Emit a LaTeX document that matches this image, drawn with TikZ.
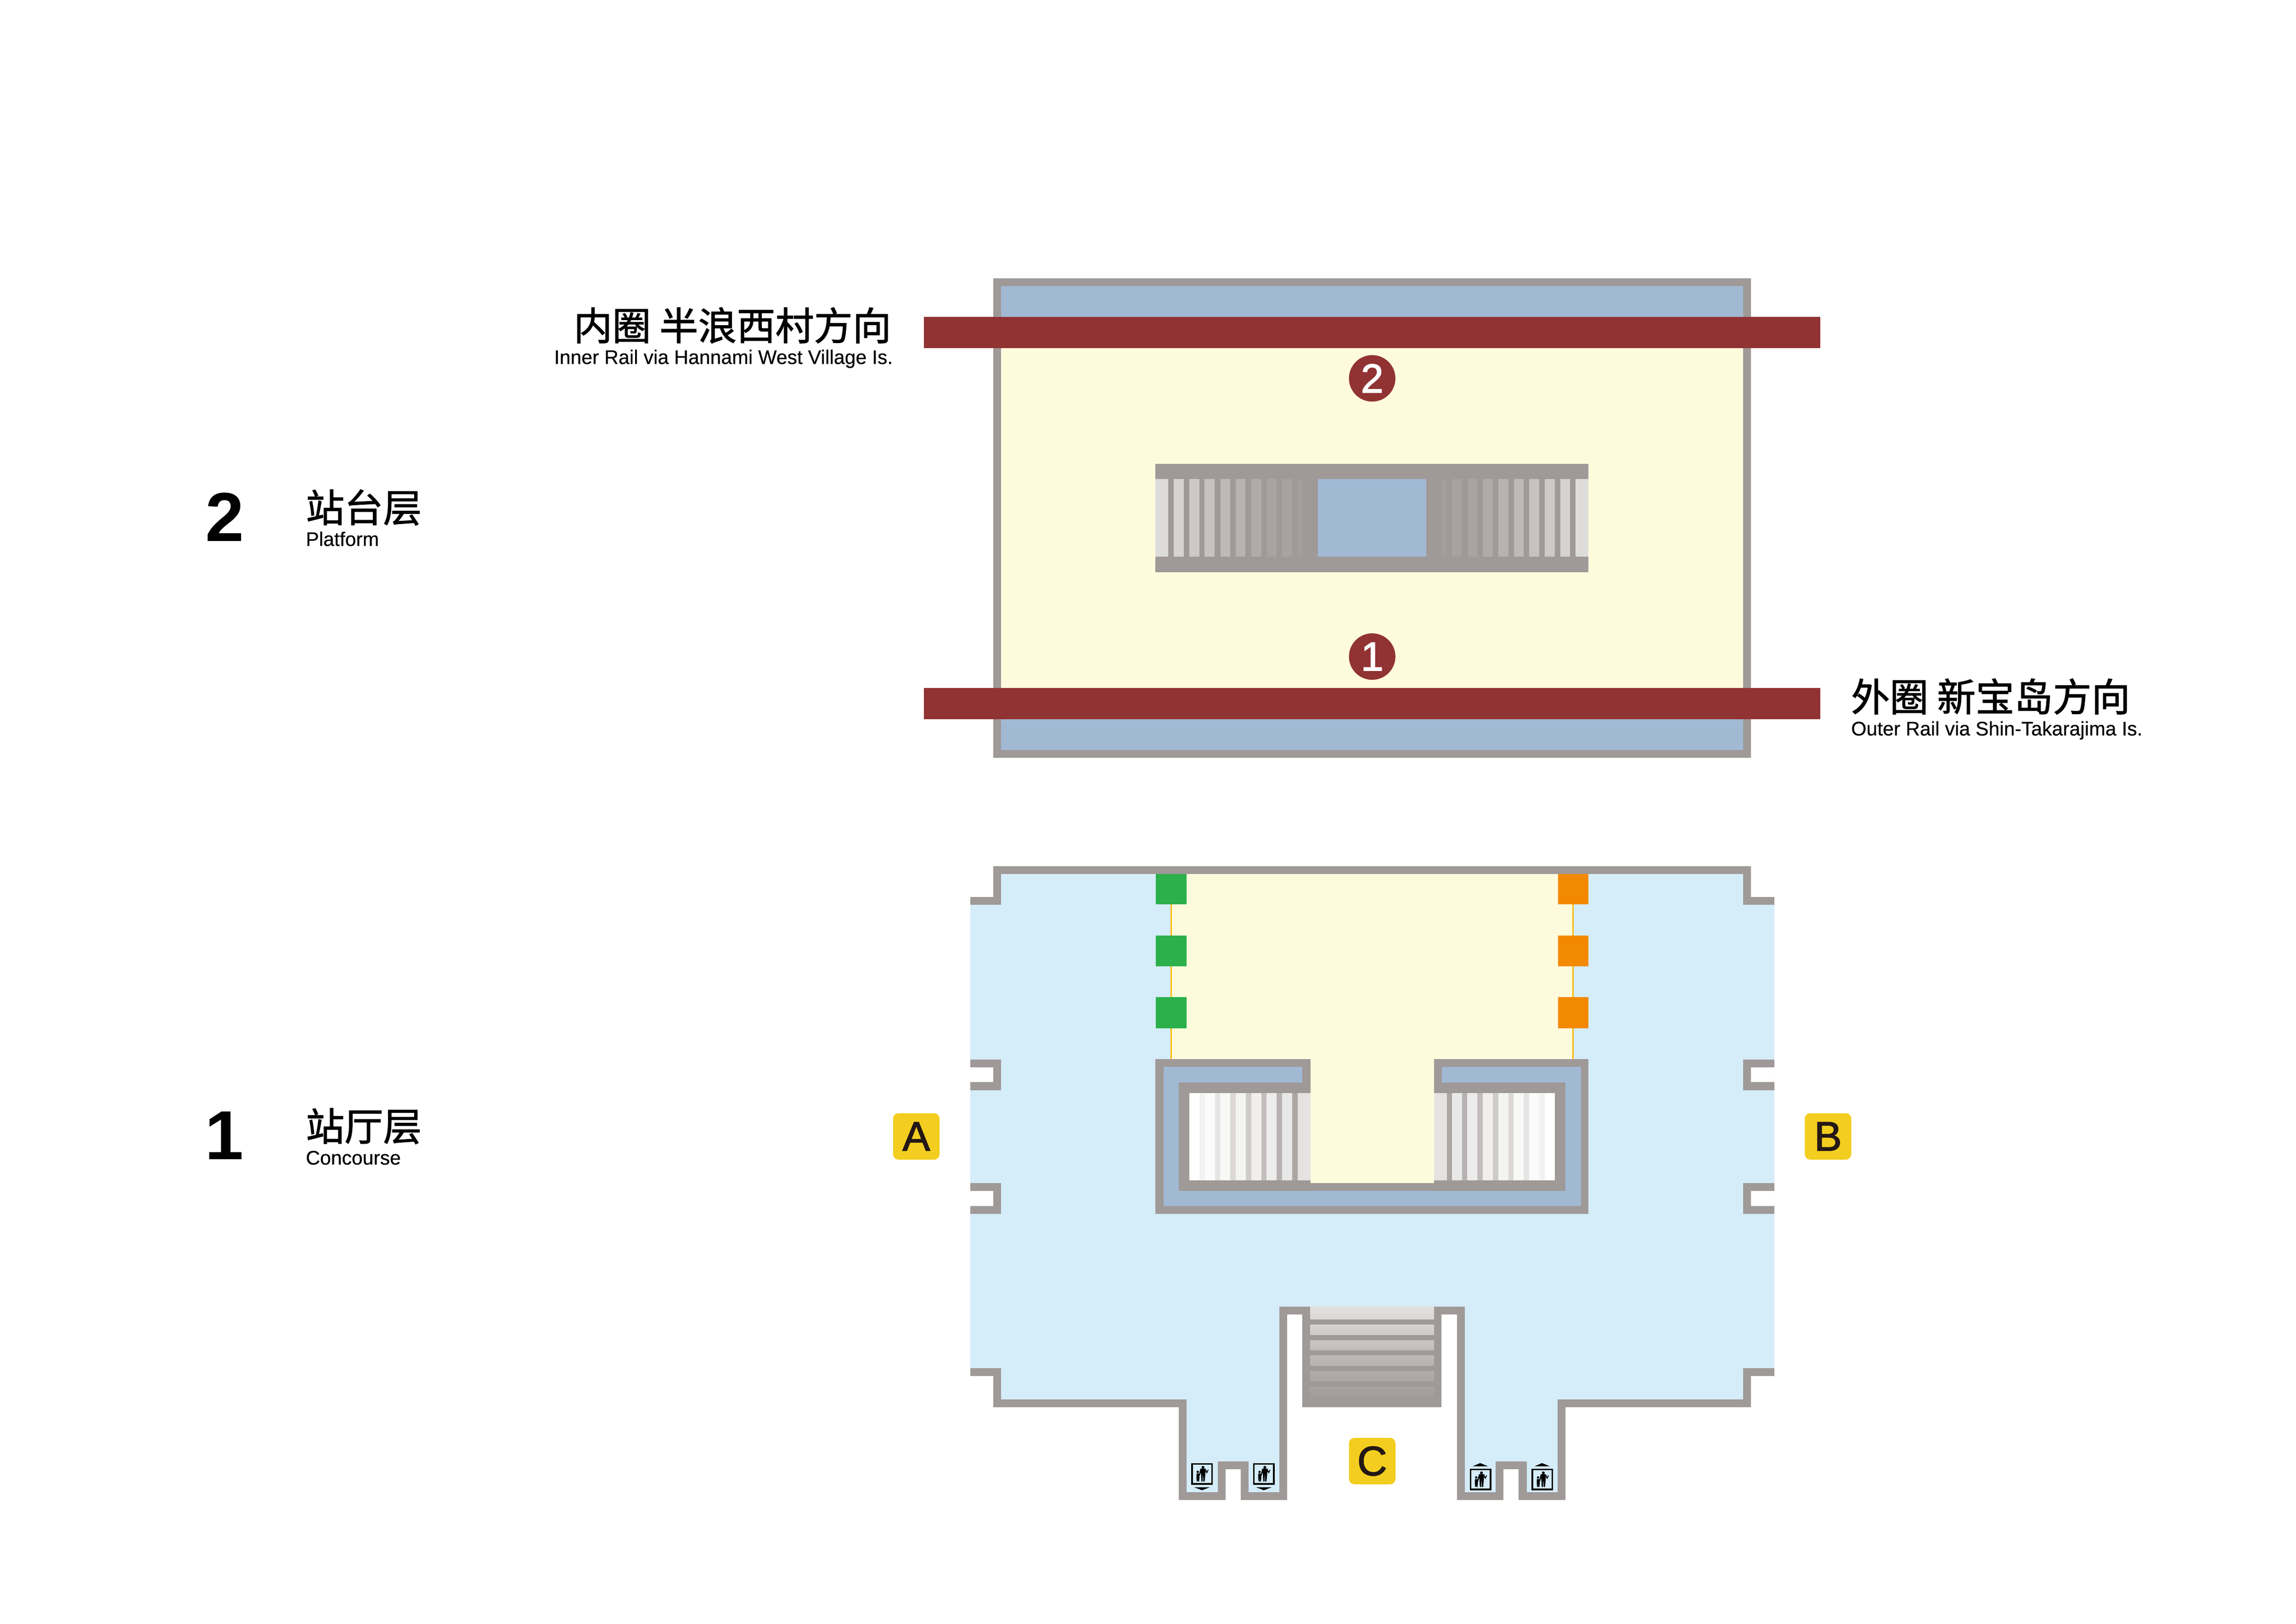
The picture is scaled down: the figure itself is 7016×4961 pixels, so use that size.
\documentclass[tikz,border=0pt]{standalone}
\usepackage{fontspec}
\setmainfont{Liberation Sans}
\newfontfamily\cjk[FakeBold=1.5]{Noto Sans CJK SC}
\newfontfamily\medfont[FakeBold=2]{Liberation Sans}
\newfontfamily\smallfont[FakeBold=0.4]{Liberation Sans}
\definecolor{wallc}{HTML}{9F9998}
\definecolor{trackblue}{HTML}{A1B9D3}
\definecolor{paleyellow}{HTML}{FEFBDC}
\definecolor{railred}{HTML}{913233}
\definecolor{floorblue}{HTML}{D5ECF9}
\definecolor{gatesgreen}{HTML}{2CB04B}
\definecolor{gatesorange}{HTML}{F38900}
\definecolor{gateline}{HTML}{FDB900}
\definecolor{exityellow}{HTML}{F3CD1F}
\definecolor{exitink}{HTML}{231815}
\newcommand{\pxfont}[1]{\fontsize{\fpeval{#1*0.12}pt}{\fpeval{#1*0.14}pt}\selectfont}
\tikzset{
  wall/.style={draw=wallc,line width=2.88pt,miter limit=10},
  wallfill/.style={fill=wallc},
  cjktext/.style={inner sep=0pt,font=\cjk\pxfont{118},text=black},
  entext/.style={inner sep=0pt,font=\smallfont\pxfont{60},text=black},
  floornum/.style={inner sep=0pt,font=\bfseries\pxfont{212},text=black},
  exitbox/.style={fill=exityellow,rounded corners=2pt,minimum size=17.04pt,inner sep=0pt,text=exitink,font=\medfont\pxfont{126}},
  platnum/.style={circle,fill=railred,minimum size=17.04pt,inner sep=0pt,text=white,font=\medfont\pxfont{124}},
  liftink/.style={draw=black,line width=0.6pt},
  pics/lift/.style={code={
    \draw[liftink] (2.5,2.5) rectangle (63.5,63.5);
    \fill[black] (36,13) circle[radius=4.4];
    \fill[black] (28,17) -- (44,17) -- (43,36) -- (41,56) -- (37,56) -- (36.5,38) -- (35.5,38) -- (35,56) -- (31,56) -- (30,36) -- (29.5,28) -- (25,41) -- (23,40) -- cycle;
    \fill[black] (44,17) -- (47.5,26) -- (51,20) -- (53,21) -- (48,32) -- (44,26) -- cycle;
    \fill[black] (20,27) circle[radius=3.7];
    \fill[black] (16,32) -- (25,32) -- (25,47) -- (24,56) -- (21,56) -- (20.7,48) -- (20.3,48) -- (20,56) -- (17,56) -- (16,47) -- cycle;
  }}
}
\begin{document}
\begin{tikzpicture}[x=0.12pt,y=-0.12pt]
\useasboundingbox (0,0) rectangle (7016,4961);
\fill[white] (0,0) rectangle (7016,4961);
% ---------- platform level
\fill[trackblue] (3047,862) rectangle (5339,2303);
\fill[paleyellow] (3047,1063) rectangle (5339,2102);
\draw[wall] (3047,862) rectangle (5339,2303);
% central stairs
\fill[wallfill] (3531,1417) rectangle (4854,1748);
\fill[trackblue] (4027,1464) rectangle (4358,1701);
\foreach \xa/\xb/\c in {3531/3570/DEDCDB,3587/3617/D6D3D2,3634/3665/CEC9C8,3681/3712/C7C2C1,3729/3759/BFBAB9,3776/3806/B8B2B1,3823/3854/B0ABAA,3871/3901/A9A3A2,3918/3948/A8A2A1,3965/3981/A39D9C}{
  \definecolor{stepc}{HTML}{\c}
  \fill[stepc] (\xa,1464) rectangle (\xb,1701);
}
\foreach \xa/\xb/\c in {4854/4815/DEDCDB,4798/4768/D6D3D2,4751/4720/CEC9C8,4704/4673/C7C2C1,4656/4626/BFBAB9,4609/4579/B8B2B1,4562/4531/B0ABAA,4514/4484/A9A3A2,4467/4437/A8A2A1,4420/4404/A39D9C}{
  \definecolor{stepc}{HTML}{\c}
  \fill[stepc] (\xa,1464) rectangle (\xb,1701);
}
% rails
\fill[railred] (2823,968) rectangle (5562,1063);
\fill[railred] (2823,2102) rectangle (5562,2197);
\node[platnum] (p2) at (4193,1156) {2};
\node[platnum] (p1) at (4193,2006) {1};
% ---------- concourse level: floor
\fill[floorblue] (2965,2763) -- (3047,2763) -- (3047,2658) -- (5339,2658) -- (5339,2763) -- (5422,2763)
  -- (5422,4180) -- (5339,4180) -- (5339,4287) -- (4771,4287) -- (4771,4571) -- (4653,4571) -- (4653,4476)
  -- (4582,4476) -- (4582,4571) -- (4464,4571) -- (4464,4004) -- (3921,4004) -- (3921,4571) -- (3803,4571)
  -- (3803,4476) -- (3733,4476) -- (3733,4571) -- (3614,4571) -- (3614,4287) -- (3047,4287) -- (3047,4180)
  -- (2965,4180) -- cycle;
% gates area
\fill[paleyellow] (3579,2670) rectangle (4807,3236);
% outer walls
\draw[wall] (2965,2752) -- (3047,2752) -- (3047,2658.5) -- (5339,2658.5) -- (5339,2752) -- (5422,2752);
\fill[white] (2965,3260) rectangle (3035,3307);
\fill[white] (2965,3638) rectangle (3035,3685);
\fill[white] (5351,3260) rectangle (5422,3307);
\fill[white] (5351,3638) rectangle (5422,3685);
\draw[wall] (2965,3248.5) -- (3047,3248.5) -- (3047,3318.5) -- (2965,3318.5);
\draw[wall] (2965,3626) -- (3047,3626) -- (3047,3697) -- (2965,3697);
\draw[wall] (5422,3248.5) -- (5339,3248.5) -- (5339,3318.5) -- (5422,3318.5);
\draw[wall] (5422,3626) -- (5339,3626) -- (5339,3697) -- (5422,3697);
\draw[wall] (2965,4192) -- (3047,4192) -- (3047,4287) -- (3614,4287) -- (3614,4571) -- (3733,4571) -- (3733,4476.5) -- (3803,4476.5) -- (3803,4571) -- (3921.5,4571) -- (3921.5,4004) -- (3992,4004);
\draw[wall] (5422,4192) -- (5339,4192) -- (5339,4287) -- (4771,4287) -- (4771,4571) -- (4653,4571) -- (4653,4476.5) -- (4582.5,4476.5) -- (4582.5,4571) -- (4464.5,4571) -- (4464.5,4004) -- (4394,4004);
% stairs at entrance C
\fill[wallfill] (3980,3992) rectangle (4405,4299);
\foreach \ya/\yb/\ct/\cb in {3992/4031/E2E0DE/DAD7D5,4048/4078/D6D3D1/CEC9C8,4095/4125/CAC5C3/C2BCBB,4142/4173/BEB9B8/B6B0AF,4189/4220/B2ACAB/AAA4A3,4237/4275/A8A2A1/9F9998}{
  \definecolor{steptop}{HTML}{\ct}
  \definecolor{stepbot}{HTML}{\cb}
  \fill[top color=steptop,bottom color=stepbot] (4004,\ya) rectangle (4382,\yb);
}
% gate squares
\foreach \ya/\yb in {2670/2763,2858/2953,3047/3142}{
  \fill[gatesgreen] (3532,\ya) rectangle (3626,\yb);
  \fill[gatesorange] (4761,\ya) rectangle (4854,\yb);
}
\draw[gateline,line width=0.55pt] (3579,2763) -- (3579,2858) (3579,2953) -- (3579,3047) (3579,3142) -- (3579,3236);
\draw[gateline,line width=0.55pt] (4807,2763) -- (4807,2858) (4807,2953) -- (4807,3047) (4807,3142) -- (4807,3236);
% central well
\fill[wallfill] (3531,3236) rectangle (4854,3709);
\fill[trackblue] (3555,3260) rectangle (4831,3685);
\fill[wallfill] (3602,3307) rectangle (4783,3638);
\fill[wallfill] (3980,3236) rectangle (4406,3339);
\fill[white] (3634,3339) rectangle (4751,3606);
\foreach \i/\cs/\cg in {0/FFFFFF/F3F2F2,1/FBFBFB/E6E4E4,2/F8F8F7/DBD8D7,3/F3F3F2/CFCBCA,4/F0EFEE/C3BEBD,5/EDECEC/B7B2B1,6/E9E8E8/ABA5A4}{
  \definecolor{stepc}{HTML}{\cs}
  \definecolor{gapc}{HTML}{\cg}
  \fill[stepc] ({3634+47.3*\i},3339) rectangle ({3665+47.3*\i},3606);
  \fill[gapc] ({3665+47.3*\i},3339) rectangle ({3681.3+47.3*\i},3606);
  \fill[stepc] ({4751-47.3*\i},3339) rectangle ({4720-47.3*\i},3606);
  \fill[gapc] ({4720-47.3*\i},3339) rectangle ({4703.7-47.3*\i},3606);
}
\definecolor{stepc}{HTML}{E4E3E1}
\fill[stepc] (3965,3339) rectangle (4004,3606);
\fill[stepc] (4382,3339) rectangle (4421,3606);
\fill[paleyellow] (4004,3236) rectangle (4382,3614);
% lifts
\pic at (3640,4470) {lift};
\pic at (3829,4470) {lift};
\pic at (4491,4487) {lift};
\pic at (4680,4487) {lift};
\fill[black] (3649,4544) -- (3697,4544) -- (3673,4553) -- cycle;
\fill[black] (3838,4544) -- (3886,4544) -- (3862,4553) -- cycle;
\fill[black] (4500,4480) -- (4547,4480) -- (4523,4470) -- cycle;
\fill[black] (4689,4480) -- (4736,4480) -- (4712,4470) -- cycle;
% exits
\node[exitbox] (exitA) at (2800,3472) {A};
\node[exitbox] (exitB) at (5586,3472) {B};
\node[exitbox] (exitC) at (4193,4464) {C};
% labels
\node[cjktext,anchor=base east] (inner) at (2725,1039) {内圈 半浪西村方向};
\node[entext,anchor=base east] (innerEn) at (2730,1112) {Inner Rail via Hannami West Village Is.};
\node[cjktext,anchor=base west] (outer) at (5655,2173) {外圈 新宝岛方向};
\node[entext,anchor=base west] (outerEn) at (5655,2247) {Outer Rail via Shin-Takarajima Is.};
\node[floornum,anchor=base west] (f2) at (626,1654) {2};
\node[cjktext,anchor=base west] (f2c) at (933,1595) {站台层};
\node[entext,anchor=base west] (f2e) at (933,1668) {Platform};
\node[floornum,anchor=base west] (f1) at (625,3543) {1};
\node[cjktext,anchor=base west] (f1c) at (933,3485) {站厅层};
\node[entext,anchor=base west] (f1e) at (933,3558) {Concourse};
\end{tikzpicture}
\end{document}
